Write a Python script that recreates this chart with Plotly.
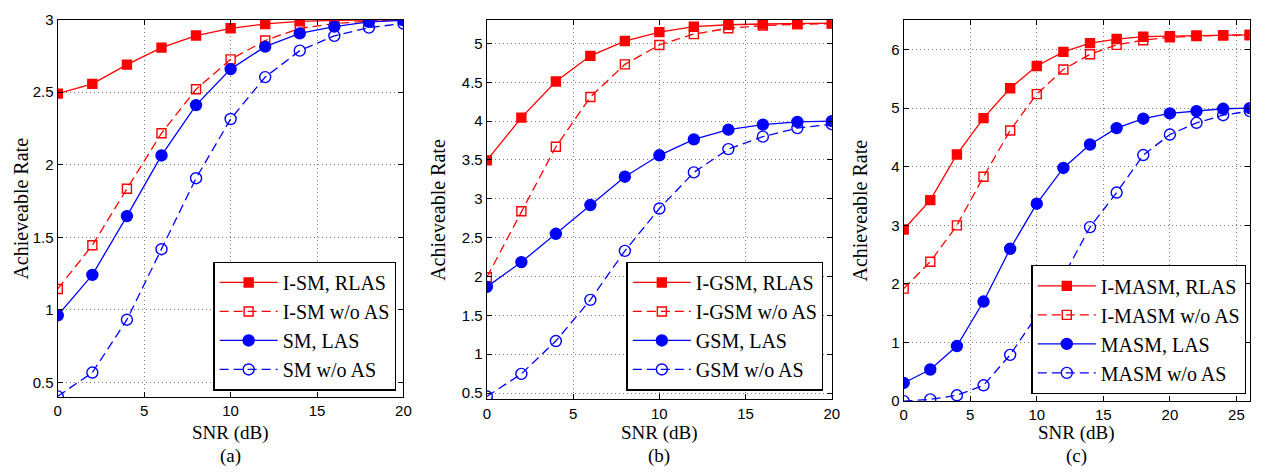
import plotly.graph_objects as go

# SNR grids (dB)
snr_ab = [0, 2, 4, 6, 8, 10, 12, 14, 16, 18, 20]
snr_c = [0, 2, 4, 6, 8, 10, 12, 14, 16, 18, 20, 22, 24, 26]

# (a) spatial modulation
ism_rlas = [2.49, 2.557, 2.69, 2.807, 2.89, 2.94, 2.97, 2.988, 2.995, 2.998, 3.0]
ism_noas = [1.144, 1.445, 1.834, 2.217, 2.52, 2.726, 2.856, 2.94, 2.972, 2.99, 2.998]
sm_las = [0.962, 1.241, 1.646, 2.064, 2.411, 2.659, 2.814, 2.905, 2.952, 2.985, 2.995]
sm_noas = [0.404, 0.568, 0.932, 1.418, 1.907, 2.315, 2.604, 2.786, 2.888, 2.945, 2.973]

# (b) generalized spatial modulation
igsm_rlas = [3.495, 4.045, 4.51, 4.84, 5.03, 5.145, 5.215, 5.24, 5.25, 5.255, 5.26]
igsm_noas = [1.99, 2.84, 3.67, 4.31, 4.73, 4.98, 5.12, 5.195, 5.23, 5.245, 5.255]
gsm_las = [1.867, 2.186, 2.55, 2.92, 3.285, 3.56, 3.765, 3.89, 3.955, 3.99, 4.0]
gsm_noas = [0.457, 0.747, 1.17, 1.70, 2.33, 2.875, 3.34, 3.64, 3.80, 3.91, 3.96]

# (c) multiple active spatial modulation
imasm_rlas = [2.93, 3.43, 4.21, 4.83, 5.34, 5.72, 5.96, 6.11, 6.18, 6.22, 6.23, 6.24, 6.245, 6.25]
imasm_noas = [1.92, 2.38, 3.0, 3.83, 4.62, 5.24, 5.66, 5.92, 6.08, 6.16, 6.21, 6.23, 6.245, 6.25]
masm_las = [0.31, 0.54, 0.94, 1.70, 2.60, 3.37, 3.98, 4.38, 4.66, 4.82, 4.91, 4.95, 4.99, 5.0]
masm_noas = [0.0, 0.03, 0.10, 0.27, 0.79, 1.46, 2.13, 2.97, 3.56, 4.20, 4.55, 4.75, 4.88, 4.95]

names_a = ["I-SM, RLAS", "I-SM w/o AS", "SM, LAS", "SM w/o AS"]
names_b = ["I-GSM, RLAS", "I-GSM w/o AS", "GSM, LAS", "GSM w/o AS"]
names_c = ["I-MASM, RLAS", "I-MASM w/o AS", "MASM, LAS", "MASM w/o AS"]

RED = "#ff0000"
BLUE = "#0000ff"
DASH = "9px,5px"
SERIF = "Liberation Serif"
SANS = "Liberation Sans"

W, H = 1263, 475

# panel boxes in pixels: (left, right, top, bottom)
boxes = [(54.3, 403.3, 11.0, 402.3),
         (487.5, 835.8, 11.5, 404.8),
         (908.3, 1257.7, 11.7, 406.7)]

styles = [
    dict(color=RED, dash="solid", symbol="square", size=9),
    dict(color=RED, dash=DASH, symbol="square-open", size=9),
    dict(color=BLUE, dash="solid", symbol="circle", size=11),
    dict(color=BLUE, dash=DASH, symbol="circle-open", size=11),
]

panels = [
    (snr_ab, [ism_rlas, ism_noas, sm_las, sm_noas], names_a),
    (snr_ab, [igsm_rlas, igsm_noas, gsm_las, gsm_noas], names_b),
    (snr_c, [imasm_rlas, imasm_noas, masm_las, masm_noas], names_c),
]

fig = go.Figure()

for p, (xs, series, names) in enumerate(panels):
    sfx = "" if p == 0 else str(p + 1)
    for ys, nm, st in zip(series, names, styles):
        fig.add_trace(go.Scatter(
            x=xs, y=ys, name=nm, mode="lines+markers",
            xaxis="x" + sfx, yaxis="y" + sfx, legend="legend" + sfx,
            line=dict(color=st["color"], width=1.3, dash=st["dash"]),
            marker=dict(symbol=st["symbol"], size=st["size"], color=st["color"],
                        line=dict(color=st["color"], width=1.4)),
        ))

x_ranges = [[0, 20], [0, 20], [0, 26]]
x_ticks = [[0, 5, 10, 15, 20], [0, 5, 10, 15, 20], [0, 5, 10, 15, 20, 25]]
y_ranges = [[0.4, 3.0], [0.42, 5.3], [0.0, 6.5]]
y_ticks = [[0.5, 1, 1.5, 2, 2.5, 3],
           [0.5, 1, 1.5, 2, 2.5, 3, 3.5, 4, 4.5, 5],
           [0, 1, 2, 3, 4, 5, 6]]
y_labels = [["0.5", "1", "1.5", "2", "2.5", "3"],
            ["0.5", "1", "1.5", "2", "2.5", "3", "3.5", "4", "4.5", "5"],
            ["0", "1", "2", "3", "4", "5", "6"]]

axis_common = dict(
    showline=True, linecolor="black", linewidth=1.4, mirror="ticks",
    ticks="inside", ticklen=5, tickwidth=1, tickcolor="black",
    showgrid=True, gridcolor="#7a7a7a", gridwidth=1, griddash="1px,3px",
    zeroline=False, tickfont=dict(family=SANS, size=15, color="black"),
)

legend_boxes = [(209.7, 396.0, 285.0, 395.7),
                (627.7, 827.3, 287.3, 395.7),
                (1038.3, 1254.3, 290.0, 399.3)]
ytitle_x = [17.5, 438.3, 864.0]
captions = ["(a)", "(b)", "(c)"]

layout = dict(
    width=W, height=H, margin=dict(l=0, r=0, t=0, b=0),
    paper_bgcolor="white", plot_bgcolor="white", showlegend=True,
)
annotations = []

for p in range(3):
    sfx = "" if p == 0 else str(p + 1)
    l, r, t, b = boxes[p]
    layout["xaxis" + sfx] = dict(
        axis_common, domain=[l / W, r / W], range=x_ranges[p],
        tickvals=x_ticks[p], anchor="y" + sfx,
    )
    layout["yaxis" + sfx] = dict(
        axis_common, domain=[1 - b / H, 1 - t / H], range=y_ranges[p],
        tickvals=y_ticks[p], ticktext=y_labels[p], anchor="x" + sfx,
    )
    ll, lr, lt, lb = legend_boxes[p]
    layout["legend" + sfx] = dict(
        x=lr / W, y=1 - lb / H, xanchor="right", yanchor="bottom",
        xref="paper", yref="paper",
        bgcolor="white", bordercolor="black", borderwidth=1.4,
        font=dict(family=SERIF, size=20, color="black"),
        itemwidth=58, tracegroupgap=0,
    )
    cx = (l + r) / 2 / W
    annotations.append(dict(text="SNR (dB)", x=cx, y=1 - 439.5 / H, xref="paper", yref="paper",
                            showarrow=False, font=dict(family=SERIF, size=19, color="black"),
                            xanchor="center", yanchor="middle"))
    annotations.append(dict(text=captions[p], x=cx, y=1 - 463.5 / H, xref="paper", yref="paper",
                            showarrow=False, font=dict(family=SERIF, size=19, color="black"),
                            xanchor="center", yanchor="middle"))
    annotations.append(dict(text="Achieveable Rate", x=ytitle_x[p] / W, y=1 - ((t + b) / 2) / H,
                            xref="paper", yref="paper", textangle=-90, showarrow=False,
                            font=dict(family=SERIF, size=20, color="black"),
                            xanchor="center", yanchor="middle"))

layout["annotations"] = annotations
fig.update_layout(**layout)

fig.write_html("out.html")
